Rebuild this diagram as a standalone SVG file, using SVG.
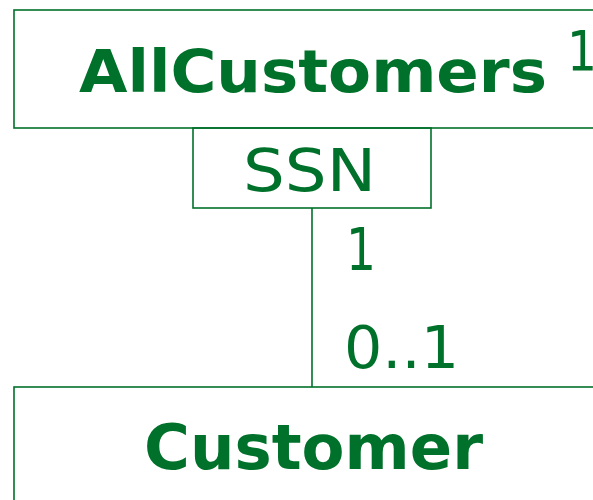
<svg xmlns="http://www.w3.org/2000/svg" width="593" height="500" viewBox="0 0 593 500">
<style>
.box{fill:none;stroke:#00712a;stroke-width:1.6}
.ln{stroke:#00712a;stroke-width:1.6;fill:none}
text{font-family:"DejaVu Sans","Liberation Sans",sans-serif;fill:#00712a}
.b{font-weight:bold}
</style>
<rect width="593" height="500" fill="#fff"/>
<g id="AllCustomers">
<rect class="box" x="14" y="10" width="600" height="118"/>
<text class="b" x="79" y="92" font-size="59" textLength="468" lengthAdjust="spacingAndGlyphs">AllCustomers</text>
<text x="567" y="70" font-size="55" textLength="30" lengthAdjust="spacingAndGlyphs">1</text>
</g>
<g id="SSN">
<rect class="box" x="193" y="128" width="238" height="80"/>
<text x="243" y="191" font-size="59" textLength="133" lengthAdjust="spacingAndGlyphs">SSN</text>
</g>
<g id="Customer">
<rect class="box" x="14" y="387" width="600" height="130"/>
<text class="b" x="144" y="469" font-size="62" textLength="339" lengthAdjust="spacingAndGlyphs">Customer</text>
</g>
<g id="connectors">
<line class="ln" x1="312" y1="208" x2="312" y2="387"/>
<text x="346" y="270" font-size="59" textLength="30" lengthAdjust="spacingAndGlyphs">1</text>
<text x="344" y="368" font-size="58" textLength="115" lengthAdjust="spacingAndGlyphs">0..1</text>
</g>
</svg>
